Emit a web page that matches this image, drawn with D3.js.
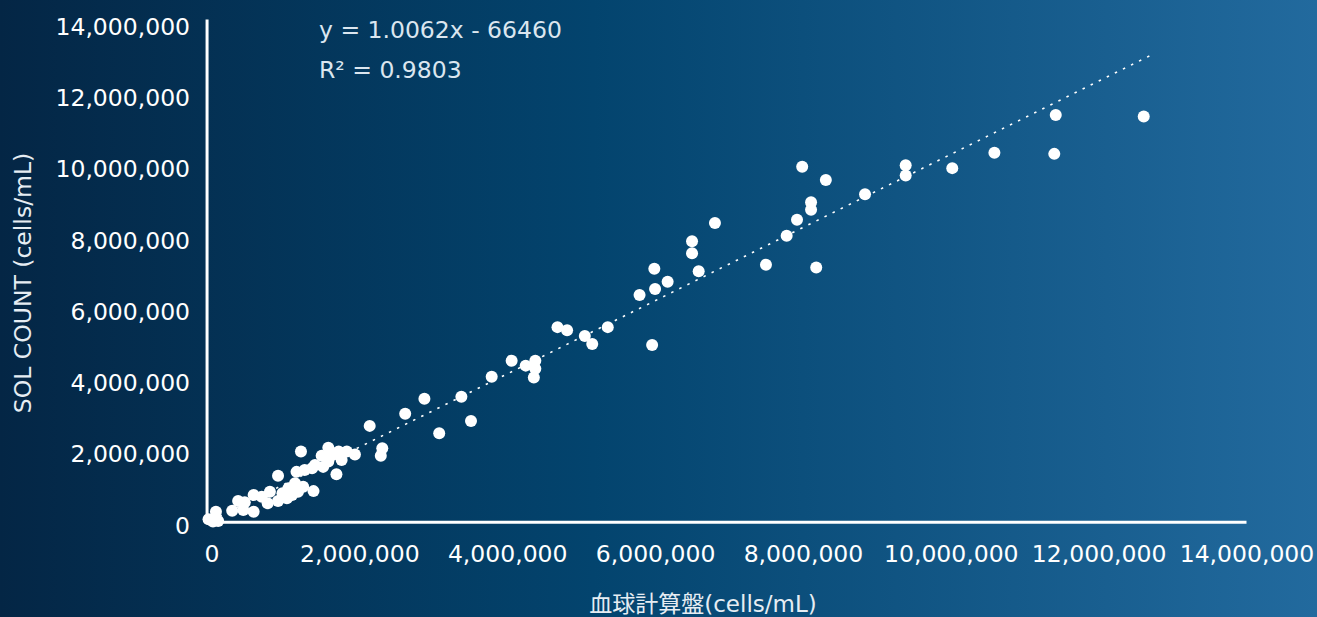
<!DOCTYPE html>
<html>
<head>
<meta charset="utf-8">
<script src="https://cdn.jsdelivr.net/npm/d3@7"></script>
<style>
  html, body { margin: 0; padding: 0; overflow: hidden; }
  svg { display: block; }
</style>
</head>
<body>
<div id="chart"></div>
<script>
// hemocytometer count (x) vs SOL COUNT (y), cells/mL
const hemoCount = [
  -40000, 60000, 90000, 20000, 280000, 360000, 430000, 450000, 570000, 570000,
  680000, 760000, 790000, 900000, 900000, 960000, 1020000, 1040000, 1090000, 1130000,
  1150000, 1170000, 1210000, 1240000, 1260000, 1360000, 1380000, 1400000, 1490000, 1510000,
  1580000, 1580000, 1630000, 1690000, 1720000, 1760000, 1830000, 1940000, 2140000, 2310000,
  2290000,
  2620000, 2880000, 3080000, 3380000, 3510000, 3790000, 4060000, 4250000, 4380000, 4380000,
  4360000, 4680000, 4810000, 5050000, 5150000, 5360000, 5790000, 5960000, 5990000, 6000000,
  6170000, 6500000, 6500000, 6590000, 6810000,
  7500000, 7780000, 7920000, 7990000, 8110000, 8110000, 8180000, 8310000, 8840000, 9390000,
  9390000, 10020000, 10590000, 11400000, 11420000, 12610000
];
const solCount = [
  180000, 390000, 130000, 120000, 420000, 690000, 440000, 660000, 860000, 390000,
  810000, 630000, 950000, 690000, 1400000, 910000, 770000, 1050000, 860000, 1190000,
  1510000, 950000, 2080000, 1090000, 1560000, 1610000, 970000, 1700000, 1960000, 1650000,
  2190000, 1800000, 1980000, 1440000, 2080000, 1840000, 2080000, 2000000, 2800000, 2170000,
  1960000,
  3140000, 3560000, 2590000, 3620000, 2940000, 4180000, 4630000, 4490000, 4630000, 4400000,
  4160000, 5570000, 5480000, 5320000, 5100000, 5570000, 6470000, 5070000, 7210000, 6640000,
  6840000, 7980000, 7640000, 7140000, 8490000,
  7320000, 8130000, 8580000, 10070000, 9070000, 8860000, 7240000, 9700000, 9300000, 10110000,
  9820000, 10030000, 10460000, 10430000, 11520000, 11480000
];

const tickValues = [0, 2000000, 4000000, 6000000, 8000000, 10000000, 12000000, 14000000];

// trendline as drawn in the picture (start / end in data units)
const trendX = [0, 12710000];
const trendY = [150000, 13200000];

const equationLines = ['y = 1.0062x - 66460', 'R² = 0.9803'];
const xTitle = '血球計算盤(cells/mL)';
const yTitle = 'SOL COUNT (cells/mL)';

const width = 1317, height = 617;

const svg = d3.select('#chart')
  .append('svg')
  .attr('width', width)
  .attr('height', height);

const grad = svg.append('defs').append('linearGradient')
  .attr('id', 'bg')
  .attr('x1', '0%').attr('x2', '100%')
  .attr('y1', '0%').attr('y2', '0%');
grad.append('stop').attr('offset', '0%').attr('stop-color', '#042645');
grad.append('stop').attr('offset', '45%').attr('stop-color', '#03446e');
grad.append('stop').attr('offset', '100%').attr('stop-color', '#226a9e');

svg.append('rect')
  .attr('width', width)
  .attr('height', height)
  .attr('fill', 'url(#bg)');

let x = d3.scaleLinear()
  .domain([0, 14000000])
  .range([211.5, 1246.5]);
let y = d3.scaleLinear()
  .domain([0, 14000000])
  .range([525.7, 26.6]);

const xMin = -60000, yMin = 100000, yMax = 14200000;
const fontStack = '"DejaVu Sans", Verdana, "Noto Sans CJK JP", sans-serif';
const labelSize = '23.5px';

// y tick labels
const yAxisCall = d3.axisLeft(y)
  .tickValues(tickValues)
  .tickSize(0)
  .tickPadding(17)
  .tickFormat(d3.format(','));
const yAxisGroup = svg.append('g')
  .attr('transform', 'translate(' + x(xMin) + ',0)')
  .call(yAxisCall);

// x tick labels
const xAxisCall = d3.axisBottom(x)
  .tickValues(tickValues)
  .tickSize(0)
  .tickPadding(23)
  .tickFormat(d3.format(','));
const xAxisGroup = svg.append('g')
  .attr('transform', 'translate(0,' + y(yMin) + ')')
  .call(xAxisCall);

[xAxisGroup, yAxisGroup].forEach(gr => {
  gr.select('.domain').remove();
  gr.selectAll('text')
    .attr('fill', '#ffffff')
    .style('font-family', fontStack)
    .style('font-size', labelSize);
});

// trendline
svg.append('line')
  .attr('x1', x(trendX[0]))
  .attr('y1', y(trendY[0]))
  .attr('x2', x(trendX[1]))
  .attr('y2', y(trendY[1]))
  .attr('stroke', '#ffffff')
  .attr('stroke-width', 1.6)
  .attr('stroke-dasharray', '2.5,6.5');

// axis lines
svg.append('line')
  .attr('x1', x(xMin)).attr('x2', x(xMin))
  .attr('y1', y(yMax)).attr('y2', y(yMin) + 1.5)
  .attr('stroke', '#ffffff')
  .attr('stroke-width', 3);
svg.append('line')
  .attr('x1', x(xMin) - 1.5).attr('x2', x(14000000))
  .attr('y1', y(yMin)).attr('y2', y(yMin))
  .attr('stroke', '#ffffff')
  .attr('stroke-width', 3);

// points
const points = hemoCount.map((d, i) => ({ hemo: d, sol: solCount[i] }));
svg.append('g')
  .selectAll('circle')
  .data(points)
  .enter()
  .append('circle')
    .attr('cx', d => x(d.hemo))
    .attr('cy', d => y(d.sol))
    .attr('r', 6)
    .attr('fill', '#ffffff');

// equation
svg.append('g')
  .selectAll('text')
  .data(equationLines)
  .enter()
  .append('text')
    .attr('x', 319)
    .attr('y', (d, i) => 38 + i * 40)
    .attr('fill', '#dbe6ef')
    .style('font-family', fontStack)
    .style('font-size', labelSize)
    .text(d => d);

// axis titles
svg.append('text')
  .attr('x', 703)
  .attr('y', 612)
  .attr('text-anchor', 'middle')
  .attr('fill', '#e6edf3')
  .style('font-family', fontStack)
  .style('font-size', '23px')
  .text(xTitle);

svg.append('text')
  .attr('transform', 'translate(31,283) rotate(-90)')
  .attr('text-anchor', 'middle')
  .attr('fill', '#e6edf3')
  .style('font-family', fontStack)
  .style('font-size', '23.5px')
  .text(yTitle);
</script>
</body>
</html>
